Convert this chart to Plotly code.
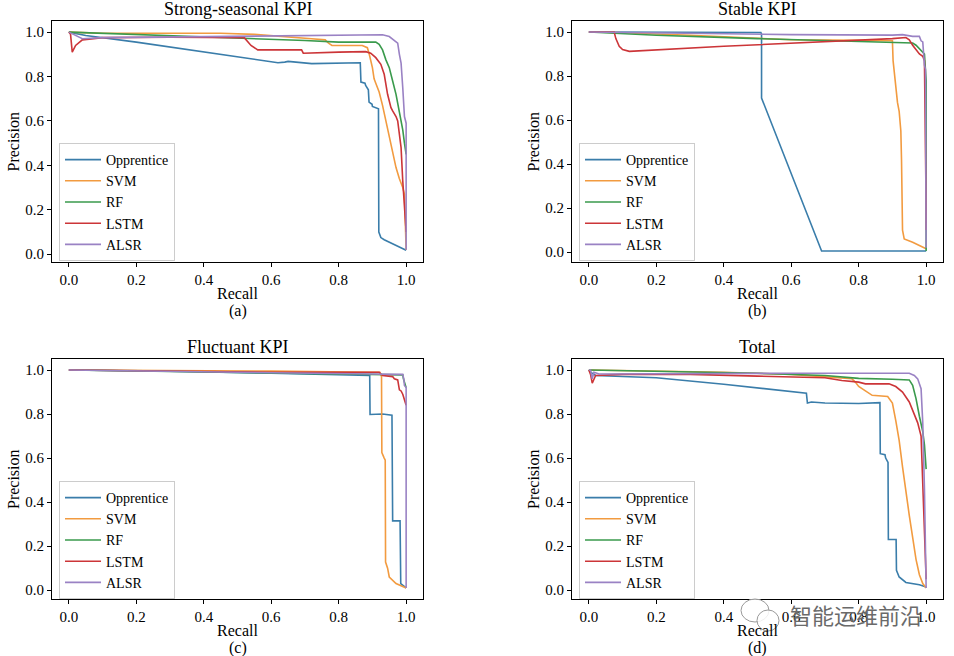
import plotly.graph_objects as go

# ---------------- data ----------------
methods = ["Opprentice", "SVM", "RF", "LSTM", "ALSR"]
colors = ["#3a7daa", "#f29b40", "#3a9a4c", "#cc3538", "#9a82c4"]
panel_titles = ["Strong-seasonal KPI", "Stable KPI", "Fluctuant KPI", "Total"]
panel_tags = ["(a)", "(b)", "(c)", "(d)"]
tick_vals = [0.0, 0.2, 0.4, 0.6, 0.8, 1.0]

# (a) Strong-seasonal KPI
strong_opp_r = [0.0, 0.05, 0.2, 0.4, 0.6, 0.62, 0.64, 0.65, 0.72, 0.864, 0.866, 0.878, 0.88, 0.888, 0.89, 0.899, 0.9, 0.918, 0.919, 0.925, 0.935, 1.0]
strong_opp_p = [1.0, 0.985, 0.955, 0.91, 0.865, 0.862, 0.865, 0.868, 0.858, 0.862, 0.775, 0.77, 0.76, 0.74, 0.685, 0.675, 0.665, 0.655, 0.10, 0.075, 0.065, 0.018]
strong_svm_r = [0.0, 0.1, 0.3, 0.45, 0.55, 0.65, 0.72, 0.76, 0.77, 0.78, 0.87, 0.885, 0.89, 0.9, 0.905, 0.91, 0.92, 0.93, 0.94, 0.95, 0.96, 0.97, 0.98, 0.99, 0.995, 1.0]
strong_svm_p = [1.0, 0.995, 0.995, 0.995, 0.99, 0.98, 0.97, 0.965, 0.95, 0.94, 0.94, 0.93, 0.905, 0.84, 0.79, 0.77, 0.73, 0.67, 0.6, 0.52, 0.45, 0.39, 0.34, 0.3, 0.27, 0.02]
strong_rf_r = [0.0, 0.1, 0.3, 0.5, 0.7, 0.8, 0.91, 0.92, 0.93, 0.94, 0.95, 0.96, 0.97, 0.98, 0.99, 0.995, 1.0]
strong_rf_p = [1.0, 0.995, 0.985, 0.972, 0.962, 0.955, 0.955, 0.945, 0.92, 0.875, 0.84, 0.78, 0.72, 0.64, 0.56, 0.5, 0.45]
strong_lstm_r = [0.0, 0.005, 0.01, 0.02, 0.04, 0.1, 0.3, 0.52, 0.54, 0.56, 0.69, 0.695, 0.8, 0.88, 0.895, 0.91, 0.925, 0.935, 0.945, 0.955, 0.96, 0.97, 0.975, 0.985, 0.99, 0.995, 1.0]
strong_lstm_p = [1.0, 0.99, 0.91, 0.94, 0.965, 0.975, 0.977, 0.975, 0.94, 0.92, 0.92, 0.905, 0.91, 0.912, 0.905, 0.885, 0.855, 0.81, 0.72, 0.66, 0.645, 0.62, 0.6, 0.48, 0.33, 0.22, 0.1]
strong_alsr_r = [0.0, 0.02, 0.04, 0.1, 0.3, 0.5, 0.7, 0.9, 0.93, 0.95, 0.965, 0.975, 0.98, 0.985, 0.99, 0.995, 1.0, 1.0]
strong_alsr_p = [1.0, 0.985, 0.97, 0.975, 0.978, 0.982, 0.985, 0.988, 0.988, 0.98, 0.96, 0.95, 0.9, 0.86, 0.75, 0.62, 0.59, 0.02]

# (b) Stable KPI
stable_opp_r = [0.0, 0.51, 0.512, 0.512, 0.69, 1.0]
stable_opp_p = [1.0, 0.998, 0.99, 0.70, 0.005, 0.005]
stable_svm_r = [0.0, 0.08, 0.3, 0.6, 0.8, 0.9, 0.902, 0.905, 0.91, 0.915, 0.92, 0.925, 0.927, 0.928, 0.93, 0.935, 0.96, 1.0]
stable_svm_p = [1.0, 0.998, 0.985, 0.965, 0.962, 0.96, 0.87, 0.82, 0.73, 0.68, 0.64, 0.55, 0.42, 0.17, 0.1, 0.06, 0.045, 0.015]
stable_rf_r = [0.0, 0.2, 0.5, 0.7, 0.9, 0.95, 0.96, 0.97, 0.98, 0.99, 0.995, 1.0, 1.0]
stable_rf_p = [1.0, 0.985, 0.97, 0.962, 0.955, 0.953, 0.95, 0.94, 0.925, 0.91, 0.9, 0.78, 0.005]
stable_lstm_r = [0.0, 0.075, 0.08, 0.085, 0.09, 0.1, 0.12, 0.4, 0.7, 0.9, 0.94, 0.95, 0.96, 0.97, 0.98, 0.99, 0.995, 1.0, 1.0]
stable_lstm_p = [1.0, 1.0, 0.97, 0.95, 0.935, 0.92, 0.912, 0.935, 0.955, 0.97, 0.975, 0.965, 0.94, 0.92, 0.9, 0.89, 0.87, 0.2, 0.1]
stable_alsr_r = [0.0, 0.3, 0.6, 0.9, 0.93, 0.96, 0.97, 0.98, 0.985, 0.99, 0.995, 0.998, 1.0]
stable_alsr_p = [1.0, 0.993, 0.988, 0.986, 0.988, 0.98, 0.98, 0.98, 0.96, 0.955, 0.85, 0.83, 0.02]

# (c) Fluctuant KPI
fluct_opp_r = [0.0, 0.3, 0.6, 0.892, 0.893, 0.92, 0.93, 0.958, 0.96, 0.982, 0.984, 1.0]
fluct_opp_p = [1.0, 0.995, 0.985, 0.975, 0.798, 0.798, 0.80, 0.795, 0.315, 0.315, 0.03, 0.01]
fluct_svm_r = [0.0, 0.3, 0.6, 0.9, 0.922, 0.927, 0.928, 0.935, 0.938, 0.939, 0.945, 0.95, 0.97, 1.0]
fluct_svm_p = [1.0, 0.998, 0.995, 0.99, 0.99, 0.97, 0.625, 0.60, 0.59, 0.128, 0.10, 0.06, 0.03, 0.01]
fluct_rf_r = [0.0, 0.3, 0.6, 0.9, 0.99, 0.992, 0.995, 1.0]
fluct_rf_p = [1.0, 0.993, 0.985, 0.98, 0.978, 0.96, 0.94, 0.92]
fluct_lstm_r = [0.0, 0.3, 0.6, 0.9, 0.92, 0.93, 0.96, 0.965, 0.975, 0.98, 0.985, 0.99, 0.995, 1.0]
fluct_lstm_p = [1.0, 0.995, 0.99, 0.99, 0.99, 0.975, 0.97, 0.96, 0.955, 0.91, 0.905, 0.89, 0.86, 0.84]
fluct_alsr_r = [0.0, 0.3, 0.6, 0.9, 0.97, 0.99, 0.993, 0.995, 1.0, 1.0]
fluct_alsr_p = [1.0, 0.995, 0.988, 0.982, 0.98, 0.98, 0.96, 0.93, 0.92, 0.01]

# (d) Total
total_opp_r = [0.0, 0.005, 0.02, 0.2, 0.4, 0.6, 0.645, 0.648, 0.66, 0.7, 0.8, 0.863, 0.864, 0.878, 0.88, 0.887, 0.888, 0.911, 0.912, 0.92, 0.94, 0.98, 1.0]
total_opp_p = [1.0, 0.99, 0.975, 0.965, 0.935, 0.905, 0.895, 0.85, 0.855, 0.85, 0.848, 0.852, 0.62, 0.615, 0.6, 0.58, 0.23, 0.23, 0.09, 0.06, 0.035, 0.025, 0.015]
total_svm_r = [0.0, 0.2, 0.4, 0.6, 0.7, 0.78, 0.79, 0.8, 0.82, 0.84, 0.886, 0.9, 0.91, 0.92, 0.93, 0.94, 0.95, 0.96, 0.97, 0.98, 0.99, 1.0]
total_svm_p = [1.0, 0.995, 0.99, 0.98, 0.97, 0.96, 0.945, 0.925, 0.905, 0.885, 0.88, 0.85, 0.77, 0.68, 0.56, 0.44, 0.34, 0.24, 0.14, 0.07, 0.03, 0.01]
total_rf_r = [0.0, 0.2, 0.5, 0.7, 0.8, 0.9, 0.95, 0.96, 0.97, 0.98, 0.99, 0.995, 1.0]
total_rf_p = [1.0, 0.995, 0.985, 0.975, 0.962, 0.958, 0.955, 0.93, 0.87, 0.79, 0.72, 0.66, 0.55]
total_lstm_r = [0.0, 0.005, 0.01, 0.015, 0.02, 0.1, 0.3, 0.5, 0.7, 0.75, 0.8, 0.82, 0.89, 0.91, 0.93, 0.95, 0.965, 0.975, 0.985, 0.99, 0.995, 1.0]
total_lstm_p = [1.0, 0.98, 0.94, 0.96, 0.975, 0.98, 0.98, 0.972, 0.965, 0.952, 0.945, 0.937, 0.937, 0.925, 0.9, 0.855, 0.8, 0.76, 0.7, 0.49, 0.34, 0.05]
total_alsr_r = [0.0, 0.005, 0.01, 0.015, 0.03, 0.3, 0.6, 0.9, 0.95, 0.965, 0.975, 0.985, 0.99, 0.995, 1.0]
total_alsr_p = [1.0, 1.0, 0.96, 0.99, 0.982, 0.985, 0.985, 0.985, 0.985, 0.975, 0.96, 0.915, 0.76, 0.46, 0.01]

panels = [
    [(strong_opp_r, strong_opp_p), (strong_svm_r, strong_svm_p), (strong_rf_r, strong_rf_p),
     (strong_lstm_r, strong_lstm_p), (strong_alsr_r, strong_alsr_p)],
    [(stable_opp_r, stable_opp_p), (stable_svm_r, stable_svm_p), (stable_rf_r, stable_rf_p),
     (stable_lstm_r, stable_lstm_p), (stable_alsr_r, stable_alsr_p)],
    [(fluct_opp_r, fluct_opp_p), (fluct_svm_r, fluct_svm_p), (fluct_rf_r, fluct_rf_p),
     (fluct_lstm_r, fluct_lstm_p), (fluct_alsr_r, fluct_alsr_p)],
    [(total_opp_r, total_opp_p), (total_svm_r, total_svm_p), (total_rf_r, total_rf_p),
     (total_lstm_r, total_lstm_p), (total_alsr_r, total_alsr_p)],
]

# ---------------- layout ----------------
W, H = 954, 656
FONT = "Liberation Serif"
# axes boxes in pixels: (left, right, top, bottom)
boxes = [(52, 423, 21, 262), (572, 943, 21, 262), (52, 423, 359, 599), (572, 943, 359, 599)]
yranges = [[-0.035, 1.05], [-0.045, 1.05], [-0.04, 1.05], [-0.04, 1.05]]

fig = go.Figure()
layout = dict(
    width=W, height=H, margin=dict(l=0, r=0, t=0, b=0),
    paper_bgcolor="white", plot_bgcolor="white",
    font=dict(family=FONT, size=15, color="black"),
    showlegend=True,
)
annotations = []
for i in range(4):
    ax = "" if i == 0 else str(i + 1)
    L, R, T, B = boxes[i]
    common = dict(
        tickvals=tick_vals, tickformat=".1f", ticks="outside", ticklen=4,
        tickcolor="black", showline=True, linecolor="black", linewidth=1.2,
        mirror=True, showgrid=False, zeroline=False,
        tickfont=dict(family=FONT, size=15, color="black"),
    )
    layout["xaxis" + ax] = dict(domain=[L / W, R / W], range=[-0.05, 1.05], anchor="y" + ax, **common)
    layout["yaxis" + ax] = dict(domain=[1 - B / H, 1 - T / H], range=yranges[i], anchor="x" + ax, **common)
    leg = "legend" if i == 0 else "legend" + str(i + 1)
    layout[leg] = dict(
        x=(L + 7) / W, y=1 - (T + 122) / H,
        xanchor="left", yanchor="top",
        bgcolor="rgba(255,255,255,0.8)", bordercolor="#cccccc", borderwidth=1,
        font=dict(family=FONT, size=14, color="black"), itemwidth=36,
    )
    for k, (r, p) in enumerate(panels[i]):
        fig.add_trace(go.Scatter(
            x=r, y=p, mode="lines", name=methods[k],
            line=dict(color=colors[k], width=1.6),
            xaxis="x" + ax, yaxis="y" + ax, legend=leg, showlegend=True,
        ))
    cx = (L + R) / 2
    annotations += [
        dict(text=panel_titles[i], x=cx / W, y=1 - (T - 12) / H, xref="paper", yref="paper",
             showarrow=False, font=dict(family=FONT, size=18), xanchor="center", yanchor="middle"),
        dict(text="Recall", x=cx / W, y=1 - (B + 31) / H, xref="paper", yref="paper",
             showarrow=False, font=dict(family=FONT, size=16), xanchor="center", yanchor="middle"),
        dict(text=panel_tags[i], x=cx / W, y=1 - (B + 49) / H, xref="paper", yref="paper",
             showarrow=False, font=dict(family=FONT, size=16), xanchor="center", yanchor="middle"),
        dict(text="Precision", x=(L - 39) / W, y=1 - ((T + B) / 2) / H, xref="paper", yref="paper",
             showarrow=False, font=dict(family=FONT, size=16), textangle=-90,
             xanchor="center", yanchor="middle"),
    ]

# watermark (text + chat-bubble icon)
annotations.append(dict(text="智能运维前沿", x=856 / W, y=1 - 614 / H, xref="paper", yref="paper",
                        showarrow=False, xanchor="center", yanchor="middle",
                        font=dict(family="Noto Sans CJK SC", size=22, color="#6a6a6a")))
shapes = [
    dict(type="circle", xref="paper", yref="paper", x0=741 / W, x1=769 / W, y0=1 - 622 / H, y1=1 - 599 / H,
         line=dict(color="#9a9a9a", width=1), fillcolor="rgba(255,255,255,0.85)", layer="above"),
    dict(type="circle", xref="paper", yref="paper", x0=757 / W, x1=779 / W, y0=1 - 631 / H, y1=1 - 610 / H,
         line=dict(color="#9a9a9a", width=1), fillcolor="rgba(255,255,255,0.85)", layer="above"),
]
layout["annotations"] = annotations
layout["shapes"] = shapes
fig.update_layout(**layout)
fig.write_html("out.html", config={"displayModeBar": False},
               post_script="document.body.style.margin='0';document.body.style.overflow='hidden';")
